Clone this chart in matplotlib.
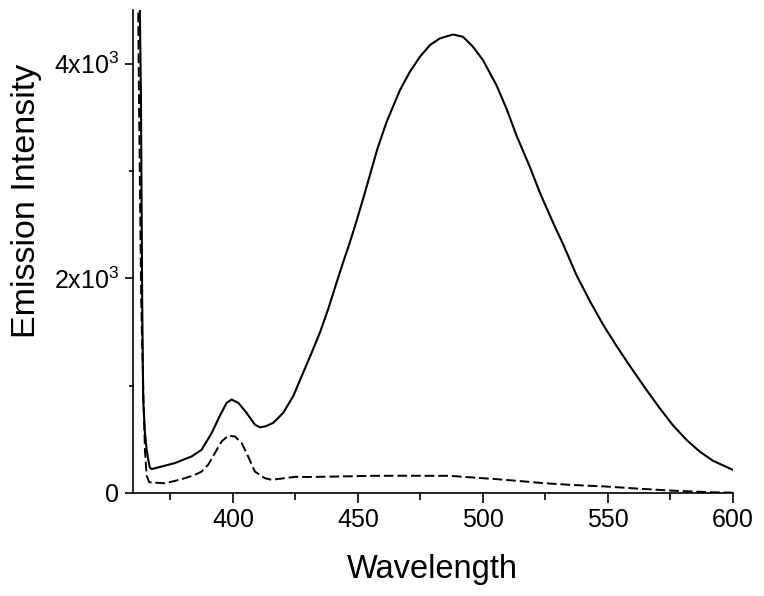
import numpy as np
import matplotlib.pyplot as plt
from matplotlib.ticker import FixedLocator, FixedFormatter

plt.rcParams['font.family'] = ['Liberation Sans', 'DejaVu Sans']
plt.rcParams['mathtext.fontset'] = 'custom'
plt.rcParams['mathtext.rm'] = 'Liberation Sans'
plt.rcParams['mathtext.it'] = 'Liberation Sans:italic'

# Step 0: data
# solid curve (emission spectrum 1)
wl_solid = [360, 362.5, 363.2, 363.7, 364.1, 364.8, 365.5, 366.2, 366.8, 367.5,
            371.5, 376.8, 383.5, 387.5, 391.5, 395, 397.5, 399.5, 402.2, 405.5,
            408.8, 410.8, 413, 416.1, 420.1, 424.1, 428.1, 431.5, 434.8, 438.1,
            441.5, 444.1, 446.8, 449.5, 452.1, 454.8, 458, 461.5, 466.8, 470.8,
            474.8, 478.8, 482.8, 488.1, 492.1, 496.1, 500.1, 505.5, 509.5, 513.5,
            518.8, 523, 528.1, 532.1, 537.5, 542.8, 548.1, 553.5, 558.8, 565.5,
            570.8, 576.1, 581.5, 586.8, 592.1, 600]
int_solid = [9000, 5000, 3700, 1800, 870, 560, 400, 300, 235, 222,
             246, 278, 340, 402, 558, 729, 839, 870, 839, 745,
             636, 611, 620, 652, 745, 900, 1119, 1306, 1493, 1711,
             1961, 2148, 2335, 2537, 2740, 2960, 3220, 3457, 3752, 3924,
             4064, 4173, 4236, 4273, 4251, 4158, 4033, 3799, 3581, 3331,
             3040, 2790, 2520, 2320, 2030, 1790, 1570, 1370, 1185, 960,
             790, 630, 495, 385, 300, 215]

# dashed curve (emission spectrum 2)
wl_dash = [360, 361.5, 362.5, 363.3, 364.2, 364.8, 365.5, 366.5, 368.1,
           372.8, 376.5, 380.8, 384.5, 387.5, 390.1, 392.8, 395.5, 398.1, 400.8,
           403.5, 406.1, 408.8, 412.8, 415.5, 420, 425, 430, 440, 456,
           470, 486.8, 491, 498, 505.5, 515, 524.1, 535, 549.5, 562,
           574.8, 585, 592, 600]
int_dash = [9000, 6000, 3500, 1800, 900, 400, 160, 100, 96,
            90, 110, 137, 165, 199, 262, 371, 480, 533, 526,
            465, 340, 199, 137, 122, 135, 150, 148, 152, 159,
            160, 159, 152, 140, 128, 110, 91, 75, 59, 40,
            22, 12, 6, 3]

# Step 1: canvas
fig = plt.figure(figsize=(7.64, 5.96), dpi=100)
ax = fig.add_axes([0.174, 0.173, 0.785, 0.81])

# Step 2: curves
ax.plot(wl_solid, int_solid, color='black', lw=1.5)
ax.plot(wl_dash, int_dash, color='black', lw=1.4, dashes=(5, 2))

# Step 3: axes styling
ax.set_xlim(360, 600)
ax.set_ylim(0, 4500)
ax.spines['top'].set_visible(False)
ax.spines['right'].set_visible(False)
ax.spines['left'].set_linewidth(1.2)
ax.spines['bottom'].set_linewidth(1.2)

ax.set_xticks([400, 450, 500, 550, 600])
ax.set_xticks([375, 425, 475, 525, 575], minor=True)
ax.yaxis.set_major_locator(FixedLocator([0, 2000, 4000]))
ax.yaxis.set_major_formatter(FixedFormatter(['0', r'2x10$^{3}$', r'4x10$^{3}$']))
ax.yaxis.set_minor_locator(FixedLocator([1000, 3000]))

ax.tick_params(axis='both', which='major', direction='out', width=1.2,
               labelsize=18, color='black')
ax.tick_params(axis='x', which='major', length=7, pad=4)
ax.tick_params(axis='y', which='major', length=6, pad=4)
ax.tick_params(axis='x', which='minor', direction='out', length=5, width=1.2)
ax.tick_params(axis='y', which='minor', direction='out', length=3, width=1.2)

ax.set_xlabel('Wavelength', fontsize=23.5, labelpad=16)
ax.set_ylabel('Emission Intensity', fontsize=24.5)
# the y title sits above the middle of the axis in the original
ax.yaxis.set_label_coords(-0.152, 0.605)

fig.savefig('out.png', dpi=100)
